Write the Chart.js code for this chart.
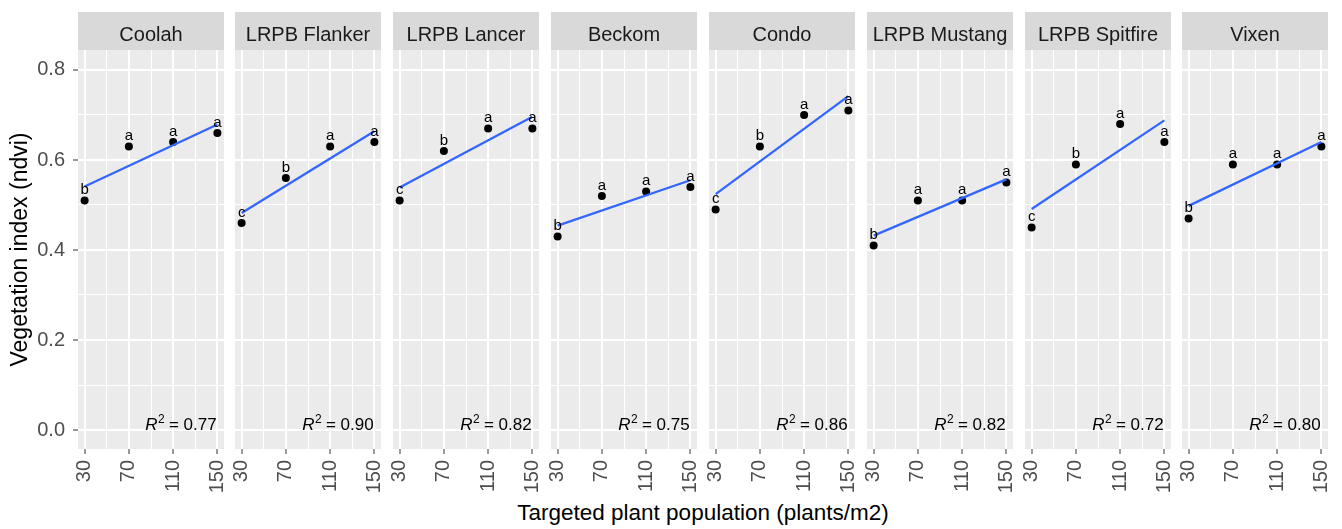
<!DOCTYPE html>
<html>
<head>
<meta charset="utf-8">
<script src="https://cdn.jsdelivr.net/npm/chart.js@4.4.1/dist/chart.umd.min.js"></script>
<style>
  html, body { margin: 0; padding: 0; background: #fff; }
  #wrap { position: relative; width: 1342px; height: 529px; overflow: hidden; }
  #wrap canvas { position: absolute; top: 0; }
  #xtitle {
    position: absolute; left: 78px; width: 1250px; top: 500px;
    text-align: center; line-height: 28px; color: #000;
    font: 22.5px "Liberation Sans", Arial, sans-serif;
  }
</style>
</head>
<body>
<div id="wrap"><div id="xtitle">Targeted plant population (plants/m2)</div></div>
<script>
'use strict';

// ---- data ----
const CULTIVARS = ['Coolah', 'LRPB Flanker', 'LRPB Lancer', 'Beckom', 'Condo', 'LRPB Mustang', 'LRPB Spitfire', 'Vixen'];
const POPULATION = [30, 70, 110, 150];
const NDVI = [
  [0.51, 0.63, 0.64, 0.66],
  [0.46, 0.56, 0.63, 0.64],
  [0.51, 0.62, 0.67, 0.67],
  [0.43, 0.52, 0.53, 0.54],
  [0.49, 0.63, 0.70, 0.71],
  [0.41, 0.51, 0.51, 0.55],
  [0.45, 0.59, 0.68, 0.64],
  [0.47, 0.59, 0.59, 0.63]
];
const LETTERS = [
  ['b', 'a', 'a', 'a'],
  ['c', 'b', 'a', 'a'],
  ['c', 'b', 'a', 'a'],
  ['b', 'a', 'a', 'a'],
  ['c', 'b', 'a', 'a'],
  ['b', 'a', 'a', 'a'],
  ['c', 'b', 'a', 'a'],
  ['b', 'a', 'a', 'a']
];
// fitted line value at 30 and at 150 plants/m2
const FIT_AT_30  = [0.541, 0.482, 0.539, 0.454, 0.524, 0.432, 0.491, 0.498];
const FIT_AT_150 = [0.679, 0.664, 0.696, 0.555, 0.742, 0.557, 0.688, 0.640];
const R2 = ['0.77', '0.90', '0.82', '0.75', '0.86', '0.82', '0.72', '0.80'];

const X_TICKS = [30, 70, 110, 150];
const X_GRID  = [30, 50, 70, 90, 110, 130, 150];
const Y_TICKS = [0, 0.2, 0.4, 0.6, 0.8];
const Y_GRID  = [0, 0.1, 0.2, 0.3, 0.4, 0.5, 0.6, 0.7, 0.8];

// ---- layout ----
const FONT = '"Liberation Sans", Arial, sans-serif';
const PANEL_LEFT = [78, 235, 393, 551, 709, 867, 1025, 1182];
const PANEL_W = 146;
const PANEL_TOP = 50, PANEL_BOTTOM = 449, STRIP_TOP = 12;
const SIDE = 8, CANVAS_H = 500;

Chart.defaults.font.family = FONT;

const isMajorX = v => X_TICKS.includes(v);
const isMajorY = v => Y_TICKS.some(t => Math.abs(t - v) < 1e-6);

const facetPlugin = {
  id: 'facet',
  beforeDraw(chart, args, opts) {
    const { ctx, chartArea: a } = chart;
    ctx.save();
    ctx.fillStyle = '#EBEBEB';
    ctx.fillRect(a.left, a.top, a.right - a.left, a.bottom - a.top);
    ctx.fillStyle = '#D9D9D9';
    ctx.fillRect(a.left, STRIP_TOP, a.right - a.left, a.top - STRIP_TOP);
    ctx.fillStyle = '#1A1A1A';
    ctx.font = '20px ' + FONT;
    ctx.textAlign = 'center';
    ctx.textBaseline = 'alphabetic';
    ctx.fillText(opts.title, (a.left + a.right) / 2, 41);
    ctx.restore();
  },
  afterDatasetsDraw(chart, args, opts) {
    const { ctx, chartArea: a, scales: { x, y } } = chart;
    ctx.save();
    ctx.fillStyle = '#000';
    ctx.textBaseline = 'alphabetic';

    // significance letters
    ctx.font = '15px ' + FONT;
    ctx.textAlign = 'center';
    POPULATION.forEach((p, k) => {
      ctx.fillText(opts.letters[k], x.getPixelForValue(p), y.getPixelForValue(opts.values[k]) - 6);
    });

    // R^2 label, right aligned at 95% of the panel
    const right = a.left + 0.95 * (a.right - a.left);
    const base = a.bottom - 19;
    const rest = ' = ' + opts.r2;
    ctx.textAlign = 'left';
    ctx.font = 'italic 17px ' + FONT;
    const wR = ctx.measureText('R').width;
    ctx.font = '12px ' + FONT;
    const w2 = ctx.measureText('2').width;
    ctx.font = '17px ' + FONT;
    const wRest = ctx.measureText(rest).width;
    let x0 = right - (wR + w2 + wRest);
    ctx.font = 'italic 17px ' + FONT;
    ctx.fillText('R', x0, base);
    x0 += wR;
    ctx.font = '12px ' + FONT;
    ctx.fillText('2', x0 + 0.5, base - 7);
    x0 += w2;
    ctx.font = '17px ' + FONT;
    ctx.fillText(rest, x0, base);
    ctx.restore();
  }
};

function makePanel(i) {
  const first = i === 0;
  const wrap = document.getElementById('wrap');
  const canvas = document.createElement('canvas');
  const left = first ? 0 : PANEL_LEFT[i] - SIDE;
  const width = first ? PANEL_LEFT[0] + PANEL_W + SIDE : PANEL_W + 2 * SIDE;
  canvas.width = width;
  canvas.height = CANVAS_H;
  canvas.style.left = left + 'px';
  canvas.style.width = width + 'px';
  canvas.style.height = CANVAS_H + 'px';
  wrap.appendChild(canvas);

  new Chart(canvas, {
    type: 'scatter',
    data: {
      datasets: [
        {
          data: POPULATION.map((p, k) => ({ x: p, y: NDVI[i][k] })),
          pointRadius: 4, pointHoverRadius: 4,
          backgroundColor: '#000', borderWidth: 0, order: 2
        },
        {
          data: [{ x: 30, y: FIT_AT_30[i] }, { x: 150, y: FIT_AT_150[i] }],
          showLine: true, pointRadius: 0, pointHoverRadius: 0,
          borderColor: '#3366FF', borderWidth: 2.3, order: 1
        }
      ]
    },
    options: {
      responsive: false, animation: false, events: [], devicePixelRatio: 1,
      layout: { padding: { top: PANEL_TOP, left: first ? 0 : SIDE, right: SIDE, bottom: 0 } },
      plugins: {
        legend: { display: false },
        tooltip: { enabled: false },
        facet: { title: CULTIVARS[i], letters: LETTERS[i], values: NDVI[i], r2: R2[i] }
      },
      scales: {
        x: {
          type: 'linear', min: 24, max: 156,
          afterBuildTicks: s => { s.ticks = X_GRID.map(v => ({ value: v })); },
          afterFit: s => { s.height = CANVAS_H - PANEL_BOTTOM; s.paddingLeft = 0; s.paddingRight = 0; },
          border: { display: false },
          grid: {
            color: '#FFFFFF',
            lineWidth: c => (c.tick && isMajorX(c.tick.value)) ? 2 : 1,
            tickLength: 5, tickWidth: 1,
            tickColor: c => (c.tick && isMajorX(c.tick.value)) ? '#333333' : 'rgba(0,0,0,0)'
          },
          ticks: {
            autoSkip: false, minRotation: 90, maxRotation: 90, padding: 6,
            color: '#4D4D4D', font: { size: 20 },
            callback: v => isMajorX(v) ? String(v) : ''
          }
        },
        y: {
          type: 'linear', min: -0.0422, max: 0.8444,
          afterBuildTicks: s => { s.ticks = Y_GRID.map(v => ({ value: v })); },
          afterFit: s => { s.width = first ? PANEL_LEFT[0] : 0; s.paddingTop = 0; s.paddingBottom = 0; },
          border: { display: false },
          grid: {
            color: '#FFFFFF',
            lineWidth: c => (c.tick && isMajorY(c.tick.value)) ? 2 : 1,
            drawTicks: first, tickLength: 5, tickWidth: 1,
            tickColor: c => (c.tick && isMajorY(c.tick.value)) ? '#333333' : 'rgba(0,0,0,0)'
          },
          ticks: {
            display: first, padding: 8,
            color: '#4D4D4D', font: { size: 20 },
            callback: v => isMajorY(v) ? v.toFixed(1) : ''
          },
          title: {
            display: first, text: 'Vegetation index (ndvi)', color: '#000',
            font: { size: 23 }, padding: { top: 7, bottom: 0 }
          }
        }
      }
    },
    plugins: [facetPlugin]
  });
}

CULTIVARS.forEach((c, i) => makePanel(i));
</script>
</body>
</html>
